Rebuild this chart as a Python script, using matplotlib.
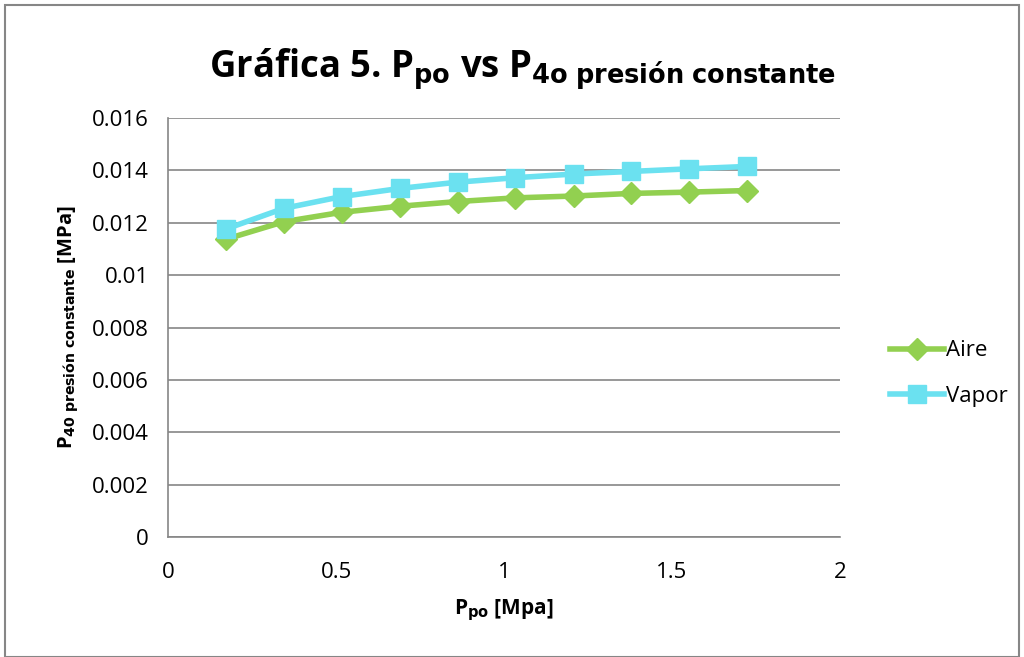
import matplotlib
matplotlib.use("Agg")
import matplotlib.pyplot as plt
from matplotlib.patches import Rectangle

plt.rcParams['font.family'] = ['Open Sans', 'DejaVu Sans']

p_po = [0.172, 0.345, 0.517, 0.690, 0.862, 1.034, 1.207, 1.379, 1.552, 1.724]
aire = [0.01137, 0.01204, 0.01240, 0.01263, 0.01281, 0.01295, 0.01302, 0.01312, 0.01317, 0.01323]
vapor = [0.01176, 0.01255, 0.01300, 0.01331, 0.01355, 0.01372, 0.01386, 0.01396, 0.01406, 0.01415]
yticks = [0, 0.002, 0.004, 0.006, 0.008, 0.01, 0.012, 0.014, 0.016]
ytick_labels = ['0', '0.002', '0.004', '0.006', '0.008', '0.01', '0.012', '0.014', '0.016']
xticks = [0, 0.5, 1, 1.5, 2]
xtick_labels = ['0', '0.5', '1', '1.5', '2']

green = '#92D050'
cyan = '#6BE1F0'
grid = '#868686'

W, H = 1024, 657
fig = plt.figure(figsize=(W / 100, H / 100), dpi=100)
ax = fig.add_axes([168 / W, 1 - 537 / H, (840 - 168) / W, (537 - 118) / H])

ax.plot(p_po, aire, color=green, lw=4, marker='D', markersize=11, label='Aire', zorder=3)
ax.plot(p_po, vapor, color=cyan, lw=4, marker='s', markersize=13, label='Vapor', zorder=4)

ax.set_xlim(0, 2)
ax.set_ylim(0, 0.016)
ax.set_yticks(yticks)
ax.set_yticklabels(ytick_labels)
ax.set_xticks(xticks)
ax.set_xticklabels(xtick_labels)
ax.tick_params(axis='both', length=0, labelsize=16, colors='black')
ax.tick_params(axis='y', pad=14)
ax.tick_params(axis='x', pad=18)
ax.yaxis.grid(True, color=grid, lw=1.2)
ax.set_axisbelow(True)
for s in ['top', 'right']:
    ax.spines[s].set_visible(False)
for s in ['left', 'bottom']:
    ax.spines[s].set_color(grid)
    ax.spines[s].set_linewidth(1.2)

ax.set_ylabel(r'P$_{\mathbf{40\ presión\ constante}}$ [MPa]', fontsize=14.5, fontweight='bold', labelpad=8)
ax.set_xlabel(r'P$_{\mathbf{po}}$ [Mpa]', fontsize=15, fontweight='bold', labelpad=10)

fig.text(522 / W, 1 - 69 / H, r'Gráfica 5. P$_{\mathbf{po}}$ vs P$_{\mathbf{4o\ presión\ constante}}$',
         ha='center', va='center', fontsize=26.3, fontweight='bold')

leg = ax.legend(loc='center left', bbox_to_anchor=(1.045, 0.39), frameon=False,
                fontsize=16, handlelength=2.4, handletextpad=0.1, labelspacing=1.1)

fig.patches.append(Rectangle((5 / W, 0), 1 - 10 / W, 1 - 5 / H, transform=fig.transFigure,
                             fill=False, edgecolor=grid, lw=1.5))

fig.savefig('out.png', dpi=100)
